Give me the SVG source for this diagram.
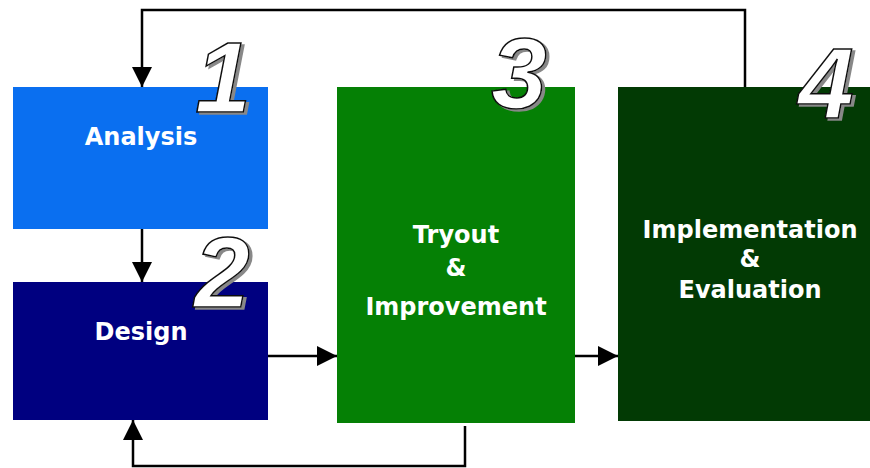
<svg xmlns="http://www.w3.org/2000/svg" width="870" height="468" viewBox="0 0 870 468">
<defs>
<style>
.lbl{font-family:"DejaVu Sans","Liberation Sans",sans-serif;font-weight:bold;font-size:24px;fill:#fff;text-anchor:middle}
.num{font-family:"Liberation Sans",Arial,sans-serif;font-weight:bold;font-style:italic;font-size:100px;text-anchor:middle;fill:#fff;stroke:#111;stroke-width:1.5;filter:url(#sh)}
.conn{fill:none;stroke:#000;stroke-width:2.5}
</style>
<filter id="sh" x="-20%" y="-20%" width="150%" height="150%">
<feOffset in="SourceAlpha" dx="3" dy="2" result="o"/>
<feFlood flood-color="#888"/>
<feComposite in2="o" operator="in" result="s"/>
<feMerge><feMergeNode in="s"/><feMergeNode in="SourceGraphic"/></feMerge>
</filter>
<marker id="ah" viewBox="0 0 20 20" refX="20" refY="10" markerWidth="20" markerHeight="20" markerUnits="userSpaceOnUse" orient="auto">
<path d="M0,0 L20,10 L0,20 Z" fill="#000"/>
</marker>
</defs>
<rect width="870" height="468" fill="#fff"/>
<g id="analysis">
<rect x="13" y="87" width="255" height="142" fill="#0a6ff0"/>
<text class="lbl" x="141" y="145">Analysis</text>
</g>
<g id="design">
<rect x="13" y="282" width="255" height="138" fill="#000080"/>
<text class="lbl" x="141" y="340">Design</text>
</g>
<g id="tryout">
<rect x="337" y="87" width="238" height="336" fill="#058005"/>
<text class="lbl" x="456" y="243">Tryout</text>
<text class="lbl" x="456" y="276">&amp;</text>
<text class="lbl" x="456" y="315">Improvement</text>
</g>
<g id="implementation">
<rect x="618" y="87" width="252" height="334" fill="#023a04"/>
<text class="lbl" x="750" y="238">Implementation</text>
<text class="lbl" x="750" y="267">&amp;</text>
<text class="lbl" x="750" y="298">Evaluation</text>
</g>
<g id="numbers">
<text class="num" x="223" y="112">1</text>
<text class="num" x="222" y="307">2</text>
<text class="num" x="519" y="108">3</text>
<text class="num" x="826" y="118">4</text>
</g>
<g id="connectors">
<polyline class="conn" points="745,87 745,10 142,10 142,87" marker-end="url(#ah)"/>
<line class="conn" x1="142" y1="229" x2="142" y2="282" marker-end="url(#ah)"/>
<line class="conn" x1="268" y1="356" x2="337" y2="356" marker-end="url(#ah)"/>
<line class="conn" x1="575" y1="356" x2="618" y2="356" marker-end="url(#ah)"/>
<polyline class="conn" points="465,426 465,466 133,466 133,420" marker-end="url(#ah)"/>
</g>
</svg>
